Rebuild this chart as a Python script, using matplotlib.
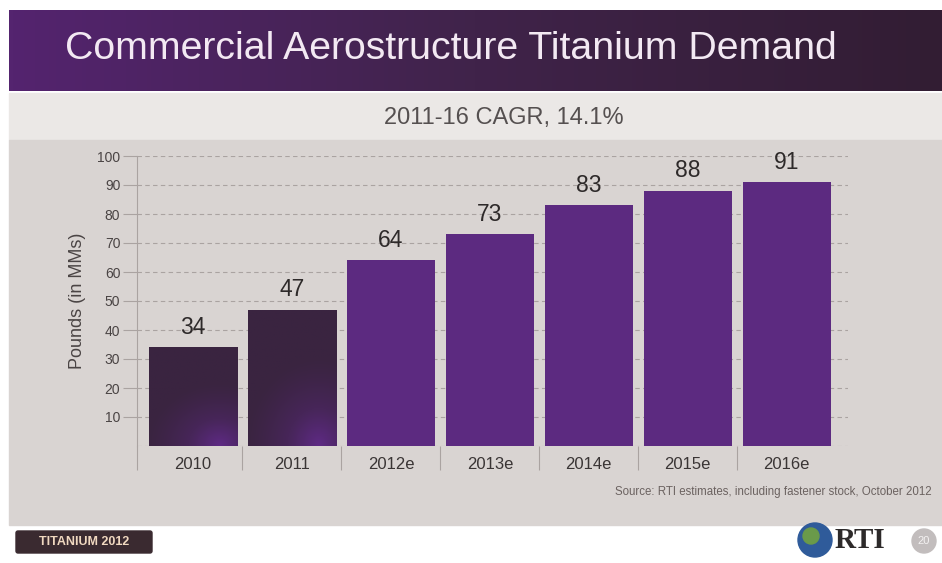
import numpy as np
import matplotlib
matplotlib.use("Agg")
import matplotlib.pyplot as plt
from matplotlib.colors import LinearSegmentedColormap
from matplotlib.patches import Rectangle, Circle, FancyBboxPatch

plt.rcParams['font.family'] = ['Liberation Sans', 'DejaVu Sans']

# Demand data (pounds, in millions)
years = ['2010', '2011', '2012e', '2013e', '2014e', '2015e', '2016e']
demand = [34, 47, 64, 73, 83, 88, 91]
actual = [True, True, False, False, False, False, False]
y_ticks = [10, 20, 30, 40, 50, 60, 70, 80, 90, 100]

title = 'Commercial Aerostructure Titanium Demand'
subtitle = '2011-16 CAGR, 14.1%'
source = 'Source: RTI estimates, including fastener stock, October 2012'

W, H = 942, 563
fig = plt.figure(figsize=(W / 100, H / 100), dpi=100)
fig.patch.set_facecolor('white')

# background layer in pixel coordinates
bg = fig.add_axes([0, 0, 1, 1])
bg.set_xlim(0, W)
bg.set_ylim(H, 0)
bg.axis('off')

# purple title band with horizontal gradient
band_cmap = LinearSegmentedColormap.from_list('band', ['#54246f', '#40234a', '#321d33'])
grad = np.linspace(0, 1, 256).reshape(1, -1)
bg.imshow(grad, cmap=band_cmap, extent=[9, W, 91, 10], aspect='auto', zorder=1)
bg.text(65, 49, title, color='#f3e9f3', fontsize=28.3, va='center', ha='left', zorder=3)

# subtitle strip and chart panel
bg.add_patch(Rectangle((9, 93), W - 9, 47, color='#ebe8e6', zorder=1))
bg.add_patch(Rectangle((9, 140), W - 9, 385, color='#d9d4d2', zorder=1))
bg.text(504, 118, subtitle, color='#555050', fontsize=17, ha='center', va='center')
bg.text(932, 492, source, color='#6b6260', fontsize=8.3, ha='right', va='center')

# footer logos
bg.add_patch(FancyBboxPatch((18, 533), 132, 18, boxstyle='round,pad=2',
                            color='#3a2a30', zorder=2))
bg.text(84, 542, 'TITANIUM 2012', color='#f0d8c0', fontsize=9, fontweight='bold',
        ha='center', va='center', zorder=3)
bg.add_patch(Circle((815, 540), 17, color='#2f5b9a', zorder=2))
bg.add_patch(Circle((811, 536), 8, color='#6a9a4a', zorder=3))
bg.text(835, 541, 'RTI', family=['Liberation Serif'], color='#2d2a2a',
        fontsize=21, fontweight='bold', ha='left', va='center')
bg.add_patch(Circle((924, 541), 12, color='#c2bdbd', zorder=2))
bg.text(924, 541, '20', color='#f4f2f2', fontsize=8, ha='center', va='center', zorder=3)

# chart axes
ax = fig.add_axes([137 / W, 1 - 446 / H, (848 - 137) / W, (446 - 156) / H])
ax.set_facecolor('none')
x = np.arange(len(years))
bars = ax.bar(x, demand, width=0.89, color=['#3b2540' if a else '#5c2a80' for a in actual],
              zorder=3)

# dark actual-year bars get a purple glow near the bottom right
glow = LinearSegmentedColormap.from_list('glow', ['#3a2440', '#472659', '#5e2a84'])
for b, a in zip(bars, actual):
    if not a:
        continue
    gx, gy = np.meshgrid(np.linspace(0, 1, 80), np.linspace(0, 1, 80))
    d = np.hypot((gx - 0.8) * 1.0, (gy - 1.0) * 1.3)
    g = np.clip(1 - d / 0.85, 0, 1) ** 1.3
    im = ax.imshow(g, cmap=glow, origin='upper', aspect='auto', zorder=3.5,
                   extent=[b.get_x(), b.get_x() + b.get_width(), 0, b.get_height()])
    im.set_clip_path(b)

for xi, v in zip(x, demand):
    ax.annotate(str(v), (xi, v), xytext=(0, 6), textcoords='offset points',
                ha='center', va='bottom', fontsize=16.5, color='#2e2a2a', zorder=4)

ax.set_xlim(-0.566, 6.62)
ax.set_ylim(0, 100)
ax.set_yticks(y_ticks)
ax.set_yticklabels([str(t) for t in y_ticks])
ax.yaxis.grid(True, linestyle=(0, (4, 3)), color='#aaa3a1', linewidth=0.8, zorder=0)
ax.axhline(0, linestyle=(0, (4, 3)), color='#aaa3a1', linewidth=0.8, zorder=0)
ax.tick_params(axis='y', length=10, color='#aaa3a1', labelsize=10, labelcolor='#4a4444',
               pad=2)

ax.set_xticks(x)
ax.set_xticklabels(years)
ax.tick_params(axis='x', which='major', length=0, labelsize=12, labelcolor='#3a3535', pad=8)
ax.set_xticks([-0.566, 0.5, 1.5, 2.5, 3.5, 4.5, 5.5], minor=True)
ax.tick_params(axis='x', which='minor', length=17, color='#aaa3a1', width=0.8)

for s in ['top', 'right', 'bottom']:
    ax.spines[s].set_visible(False)
ax.spines['left'].set_color('#aaa3a1')
ax.spines['left'].set_linewidth(0.8)

ax.set_ylabel('Pounds (in MMs)', fontsize=13, color='#4a4444', labelpad=8)

fig.savefig('out.png', dpi=100)
